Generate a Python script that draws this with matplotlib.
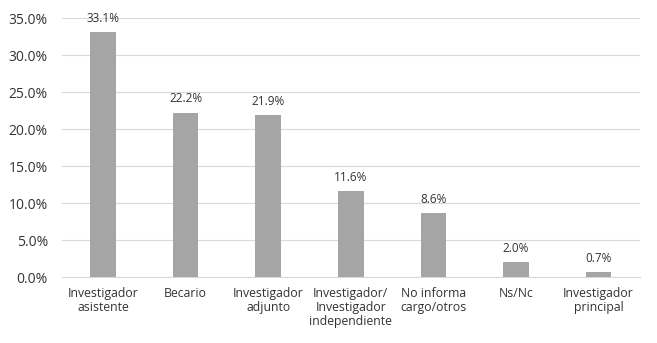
import matplotlib.pyplot as plt
from matplotlib.ticker import FuncFormatter

categorias = ["Investigador\nasistente", "Becario", "Investigador\nadjunto",
              "Investigador/\nInvestigador\nindependiente", "No informa\ncargo/otros",
              "Ns/Nc", "Investigador\nprincipal"]
porcentajes = [33.1, 22.2, 21.9, 11.6, 8.6, 2.0, 0.7]

plt.rcParams['font.family'] = ['Open Sans', 'DejaVu Sans']

fig = plt.figure(figsize=(6.57, 3.43), dpi=100)
ax = fig.add_axes([0.094, 0.192, 0.88, 0.7555])

x = range(len(categorias))
bars = ax.bar(x, porcentajes, width=0.31, color='#a5a5a5', zorder=3)
for b, v in zip(bars, porcentajes):
    ax.text(b.get_x() + b.get_width() / 2, v + 1.0, f"{v:.1f}%",
            ha='center', va='bottom', fontsize=8.5, color='#333333')

ax.set_xlim(-0.5, len(categorias) - 0.5)
ax.set_ylim(0, 35)
ax.set_yticks([0, 5, 10, 15, 20, 25, 30, 35])
ax.yaxis.set_major_formatter(FuncFormatter(lambda v, p: f"{v:.1f}%"))
ax.set_xticks(list(x))
ax.set_xticklabels(categorias, fontsize=8.8, color='#333333', linespacing=1.1)
ax.tick_params(axis='y', labelsize=10, colors='#333333', length=0, pad=10)
ax.tick_params(axis='x', length=0, pad=7)
ax.grid(axis='y', color='#d9d9d9', linewidth=0.8, zorder=0)
for s in ['top', 'right', 'left']:
    ax.spines[s].set_visible(False)
ax.spines['bottom'].set_color('#d9d9d9')

fig.savefig("out.png", dpi=100)
